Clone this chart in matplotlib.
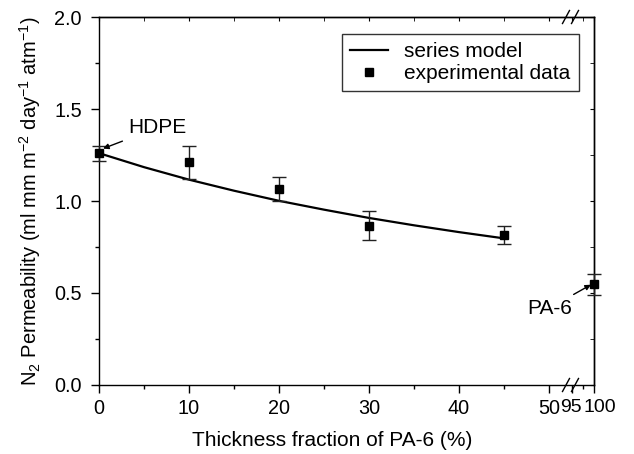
import matplotlib.pyplot as plt
import matplotlib.transforms as mtransforms
from matplotlib.lines import Line2D

plt.rcParams['font.family'] = ['Liberation Sans', 'DejaVu Sans']
plt.rcParams['mathtext.default'] = 'regular'
plt.rcParams['font.size'] = 14

# series model curve
model_x = [0, 5, 10, 15, 20, 25, 30, 35, 40, 45]
model_y = [1.260, 1.184, 1.116, 1.056, 1.001, 0.953, 0.908, 0.868, 0.831, 0.797]

# experimental data
exp_x = [0, 10, 20, 30, 45]
exp_y = [1.26, 1.21, 1.065, 0.866, 0.815]
exp_err = [0.04, 0.09, 0.067, 0.08, 0.05]

pa6_x = [100]
pa6_y = [0.547]
pa6_err = [0.058]

W, H = 634, 454
fig = plt.figure(figsize=(W / 100, H / 100), dpi=100)

bottom = 1 - 385 / H
height = 368 / H
ax = fig.add_axes([99 / W, bottom, (566 - 99) / W, height])
ax2 = fig.add_axes([567 / W, bottom, (594 - 567) / W, height])

ax.plot(model_x, model_y, color='k', lw=1.6)
ax.errorbar(exp_x, exp_y, yerr=exp_err, fmt='s', color='k', ms=6,
            ecolor='#222222', elinewidth=1, capsize=5, capthick=1,
            clip_on=False, zorder=3)
ax2.errorbar(pa6_x, pa6_y, yerr=pa6_err, fmt='s', color='k', ms=6,
             ecolor='#222222', elinewidth=1, capsize=5, capthick=1,
             clip_on=False, zorder=3)

for a in (ax, ax2):
    a.set_ylim(0, 2.0)
    for s in a.spines.values():
        s.set_linewidth(1)

ax.set_xlim(0, 51.9)
ax2.set_xlim(93.9, 100)

ax.spines['right'].set_visible(False)
ax2.spines['left'].set_visible(False)

ax.set_xticks([0, 10, 20, 30, 40, 50])
ax.set_xticks([5, 15, 25, 35, 45], minor=True)
ax.set_yticks([0.0, 0.5, 1.0, 1.5, 2.0])
ax.set_yticks([0.25, 0.75, 1.25, 1.75], minor=True)
ax.set_yticklabels(['0.0', '0.5', '1.0', '1.5', '2.0'])
ax.tick_params(which='both', direction='out', width=1, labelsize=14.3)
ax.tick_params(which='major', length=5.8)
ax.tick_params(axis='x', which='major', pad=4)
ax.tick_params(axis='y', which='major', pad=6.5)
ax.tick_params(which='minor', length=3)

ax2.set_xticks([95, 100])
ax2.set_xticks([97.5], minor=True)
ax2.set_yticks([])
ax2.tick_params(which='both', direction='out', width=1, labelsize=14)
ax2.tick_params(which='major', length=5.8, pad=4)
ax2.tick_params(which='minor', length=3)

# inward ticks on top and right
top1 = ax.secondary_xaxis('top')
top1.set_xticks([0, 10, 20, 30, 40, 50])
top1.set_xticks([5, 15, 25, 35, 45], minor=True)
top1.tick_params(which='both', direction='in', length=3, labeltop=False)
top1.spines['top'].set_linewidth(1)

top2 = ax2.secondary_xaxis('top')
top2.set_xticks([95, 100])
top2.set_xticks([97.5], minor=True)
top2.tick_params(which='both', direction='in', length=3, labeltop=False)
top2.spines['top'].set_linewidth(1)

right2 = ax2.secondary_yaxis('right')
right2.set_yticks([0.0, 0.5, 1.0, 1.5, 2.0])
right2.set_yticks([0.25, 0.75, 1.25, 1.75], minor=True)
right2.tick_params(which='both', direction='in', length=3, labelright=False)
right2.spines['right'].set_linewidth(1)

ax.set_xlabel('Thickness fraction of PA-6 (%)', fontsize=15)
ax.xaxis.set_label_coords(0.499, -0.125)
ax.set_ylabel('N$_2$ Permeability (ml mm m$^{-2}$ day$^{-1}$ atm$^{-1}$)',
              fontsize=14.5, labelpad=8)

ax.annotate('HDPE', xy=(0.45, 1.285), xytext=(3.2, 1.397),
            ha='left', va='center', fontsize=15,
            arrowprops=dict(arrowstyle='-|>', color='k', lw=1,
                            mutation_scale=8, shrinkA=2, shrinkB=0))
ax2.annotate('PA-6', xy=(99.3, 0.545), xytext=(95.0, 0.418),
             ha='right', va='center', fontsize=15,
             arrowprops=dict(arrowstyle='-|>', color='k', lw=1,
                             mutation_scale=8, shrinkA=2, shrinkB=0))

handles = [Line2D([], [], color='k', lw=1.6),
           Line2D([], [], color='k', marker='s', ls='none', ms=6)]
leg = fig.legend(handles, ['series model', 'experimental data'],
                 loc='upper right', bbox_to_anchor=(579 / W, 1 - 34 / H),
                 borderaxespad=0, frameon=True, fancybox=False,
                 edgecolor='k', handlelength=1.8, handletextpad=0.8,
                 labelspacing=0.12, borderpad=0.4, fontsize=15)
leg.get_frame().set_linewidth(1)

# break marks
for yb in (17, 385):
    for xc in (566, 575):
        fig.add_artist(Line2D([(xc - 3.5) / W, (xc + 3.5) / W],
                              [1 - (yb + 6.5) / H, 1 - (yb - 6.5) / H],
                              color='k', lw=1, transform=fig.transFigure))

# nudge the crowded 95 / 100 labels apart, as in the original
fig.canvas.draw()
for lab in ax2.get_xticklabels():
    dx = {'95': -1, '100': 6}.get(lab.get_text(), 0)
    if dx:
        lab.set_transform(lab.get_transform() +
                          mtransforms.ScaledTranslation(dx / 100, 0, fig.dpi_scale_trans))

fig.savefig('out.png', dpi=100)
